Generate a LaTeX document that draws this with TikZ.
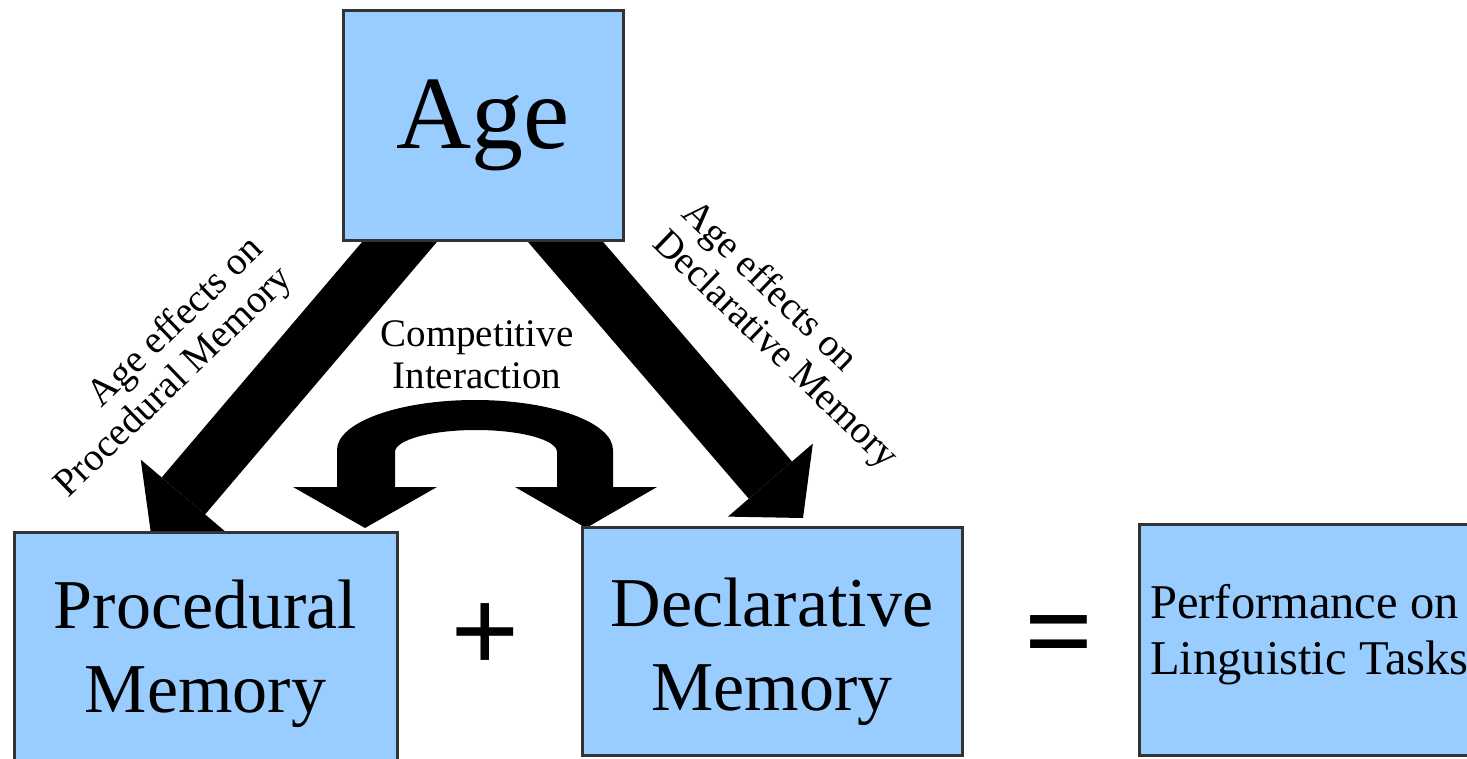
\documentclass[tikz,border=0pt]{standalone}
\usepackage{fontspec}
\setmainfont{Liberation Serif}
\usetikzlibrary{arrows.meta, backgrounds}
\definecolor{boxblue}{HTML}{99CCFF}
\tikzset{
	membox/.style={draw=black!80, line width=3pt, fill=boxblue, inner sep=0pt}, % the blue boxes
	bigarrow/.style={line width=57pt, -{Triangle[width=112pt, length=50pt, line width=0pt]}}, % the thick arrows out of Age
	effect/.style={font=\fontsize{39}{41}\selectfont, inner sep=0pt}, % rotated arrow labels
	sign/.style={font=\fontsize{122}{122}\selectfont\bfseries}, % + and =
}

\begin{document}
\begin{tikzpicture}[x=1pt, y=-1pt]
	\useasboundingbox (0,0) rectangle (1467,758);

	% boxes
	\node[membox, minimum width=280pt, minimum height=230pt, font=\fontsize{104}{110}\selectfont] (age) at (483,125) {Age};
	\node[membox, minimum width=383pt, minimum height=243pt, align=center, font=\fontsize{70}{84}\selectfont] (proc) at (205.5,653.5) {Procedural\\Memory};
	\node[membox, minimum width=380pt, minimum height=228pt] (decl) at (772,641) {};
	\node[align=center, font=\fontsize{70}{84}\selectfont] (declText) at (772,652) {Declarative\\Memory};
	\node[membox, minimum width=371pt, minimum height=231pt] (perf) at (1324.5,639.5) {};
	\node[align=left, anchor=west, inner sep=0pt, font=\fontsize{48.5}{56}\selectfont] (perfText) at (1150,635) {Performance on\\Linguistic Tasks};

	% signs and labels
	\node[sign] (plus) at (485,638) {+};
	\node[sign] (equals) at (1059,644) {=};
	\node[align=center, font=\fontsize{39}{42}\selectfont] (comp) at (477,355) {Competitive\\Interaction};
	\node[effect, align=right, rotate=44] (procLabel) at (160,368) {Age effects on\\Procedural Memory};
	\node[effect, align=left, rotate=-44] (declLabel) at (789,336) {Age effects on\\Declarative Memory};

	\coordinate (procTip) at (151,534);
	\coordinate (declTip) at (803,518);
	\coordinate (compL) at (365,528);
	\coordinate (compR) at (586,528);

	\begin{scope}[on background layer]
		\draw[bigarrow] ([xshift=16pt]age.center) -- (procTip);
		\draw[bigarrow] ([xshift=-18pt]age.center) -- (declTip);
		% the bent double arrow
		\fill (compL) -- (437,487) -- (395,487) -- (395,452)
			arc[start angle=180, end angle=360, x radius=81, y radius=22]
			-- (557,487) -- (515,487) -- (compR) -- (657,487) -- (613,487) -- (613,450)
			arc[start angle=0, end angle=-180, x radius=138, y radius=50]
			-- (337,487) -- (293,487) -- cycle;
	\end{scope}
\end{tikzpicture}
\end{document}
